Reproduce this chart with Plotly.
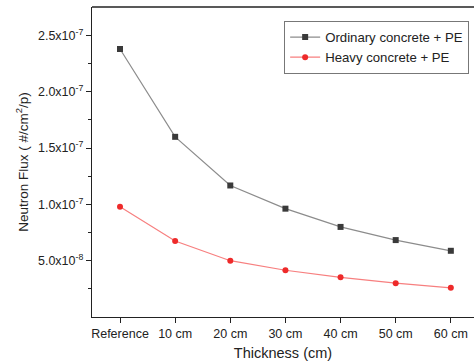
import plotly.graph_objects as go

categories = ["Reference", "10 cm", "20 cm", "30 cm", "40 cm", "50 cm", "60 cm"]
ordinary_pe = [2.38e-7, 1.60e-7, 1.168e-7, 0.962e-7, 0.80e-7, 0.683e-7, 0.588e-7]
heavy_pe = [0.98e-7, 0.675e-7, 0.50e-7, 0.415e-7, 0.352e-7, 0.30e-7, 0.259e-7]
y_tick_vals = [5e-8, 1e-7, 1.5e-7, 2e-7, 2.5e-7]
y_tick_text = ["5.0x10<sup>-8</sup>", "1.0x10<sup>-7</sup>", "1.5x10<sup>-7</sup>",
               "2.0x10<sup>-7</sup>", "2.5x10<sup>-7</sup>"]

xs = list(range(len(categories)))
font = "Liberation Sans, Arial, sans-serif"

fig = go.Figure()
fig.add_trace(go.Scatter(
    x=xs, y=ordinary_pe, mode="lines+markers", name="Ordinary concrete + PE",
    line=dict(color="#8c8c8c", width=1.2),
    marker=dict(symbol="square", size=6, color="#3a3a3a"),
))
fig.add_trace(go.Scatter(
    x=xs, y=heavy_pe, mode="lines+markers", name="Heavy concrete + PE",
    line=dict(color="#f77f7f", width=1.2),
    marker=dict(symbol="circle", size=6, color="#ee2a2a"),
))

fig.update_layout(
    width=474, height=362,
    margin=dict(l=92, r=0, t=7, b=45),
    paper_bgcolor="white", plot_bgcolor="white",
    font=dict(family=font, size=12.5, color="#222"),
    showlegend=True,
    legend=dict(
        x=0.503, y=0.955, xanchor="left", yanchor="top",
        bordercolor="#777", borderwidth=1, bgcolor="white",
        font=dict(size=13.2, color="#222"),
        itemwidth=30, tracegroupgap=0,
    ),
    xaxis=dict(
        range=[-0.508, 6.42], automargin=False,
        tickmode="array", tickvals=xs, ticktext=categories,
        showline=True, linecolor="#222", linewidth=1.4,
        ticks="outside", ticklen=5, tickwidth=1, tickcolor="#222",
        showgrid=False, zeroline=False,
        tickfont=dict(size=12.5, color="#222"),
        title=dict(text="Thickness (cm)", font=dict(size=14.5, color="#222"), standoff=7),
    ),
    yaxis=dict(
        range=[0, 2.753e-7], automargin=False,
        tickmode="array", tickvals=y_tick_vals, ticktext=y_tick_text,
        showline=True, linecolor="#222", linewidth=1.4,
        ticks="outside", ticklen=5, tickwidth=1, tickcolor="#222",
        minor=dict(tickvals=[2.5e-8, 7.5e-8, 1.25e-7, 1.75e-7, 2.25e-7],
                   ticks="outside", ticklen=3, tickwidth=1, tickcolor="#222"),
        showgrid=False, zeroline=False,
        tickfont=dict(size=12.5, color="#222"),
        title=dict(text="Neutron Flux ( #/cm<sup>2</sup>/p)", font=dict(size=13.5, color="#222"), standoff=6),
    ),
    shapes=[dict(type="line", xref="paper", yref="paper", x0=0, x1=1, y0=1, y1=1,
                 line=dict(color="#222", width=1.4))],
)

fig.write_html("out.html", config={"displayModeBar": False},
               post_script="document.body.style.margin='0';document.body.style.overflow='hidden';")
